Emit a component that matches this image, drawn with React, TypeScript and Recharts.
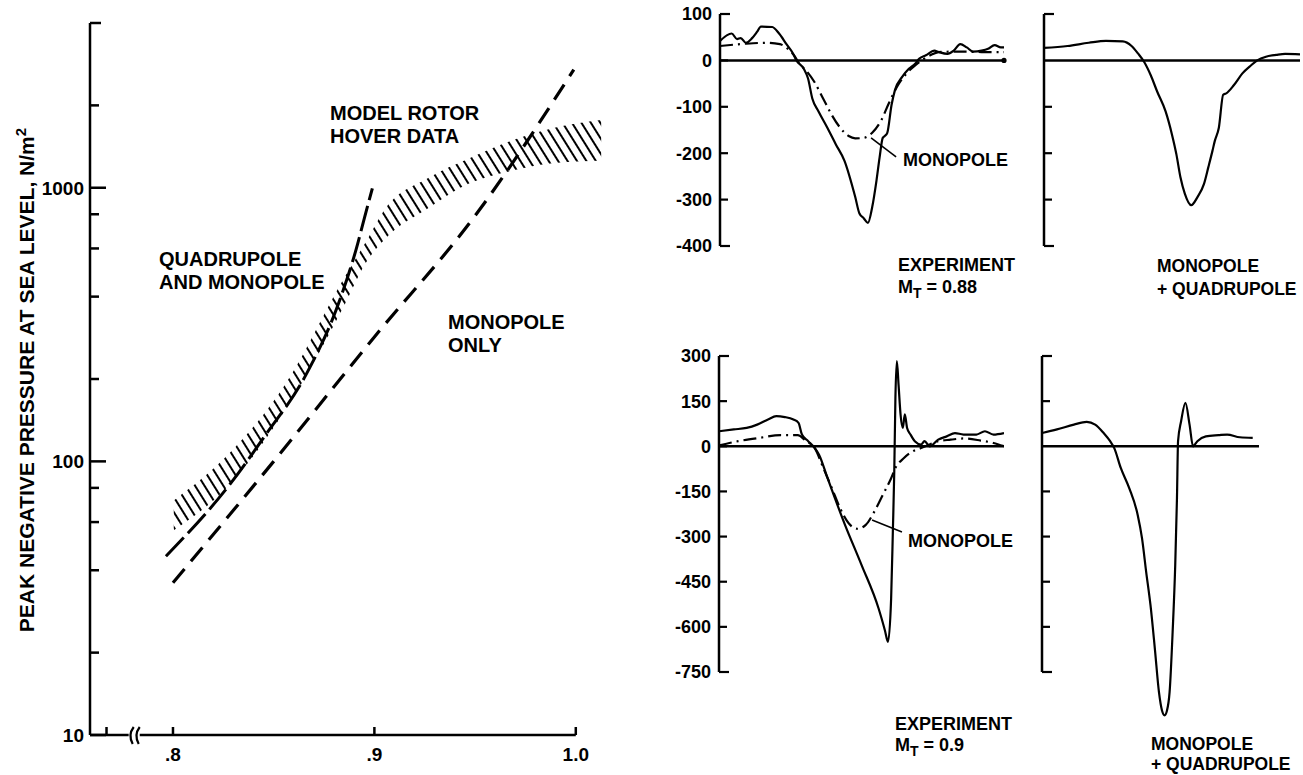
import React from 'react';
import {
  ComposedChart,
  LineChart,
  Line,
  Area,
  XAxis,
  YAxis,
  ReferenceLine,
  ReferenceDot,
} from 'recharts';

const FONT = '"Liberation Sans", Arial, Helvetica, sans-serif';
const INK = '#000';

// ---------------- Left chart: peak negative pressure vs tip Mach number ----------------
const monopoleOnlyMach = [0.8, 0.85, 0.9, 0.95, 0.999];
const monopoleOnlyPressure = [36, 100, 285, 790, 2700];

const quadMonoMach = [0.7965, 0.828, 0.846, 0.866, 0.883, 0.891, 0.895, 0.899];
const quadMonoPressure = [45, 82, 125, 207, 392, 598, 773, 995];

const hoverMach = [0.8004, 0.828, 0.8557, 0.8854, 0.8953, 0.9055, 0.9265, 0.9475, 0.9685, 0.9895, 1.0126];
const hoverLow = [56, 82, 154, 376, 525, 652, 840, 1040, 1155, 1232, 1256];
const hoverHigh = [72, 107, 191, 474, 625, 840, 1084, 1285, 1490, 1655, 1767];

const xTickValues = [0.767, 0.8, 0.9, 1.0];
const xTickLabels = ['', '.8', '.9', '1.0'];
const yTickValues = [10, 20, 40, 60, 80, 100, 200, 400, 600, 800, 1000, 2000, 4000];
const yTickLabels = ['10', '', '', '', '', '100', '', '', '', '', '1000', '', ''];

// ---------------- Right panels: pressure time histories ----------------
// Panel A: experiment, M_T = 0.88
const tA = [0, 4.1, 6.0, 7.3, 9.1, 11.3, 13.1, 14.4, 18.4, 20.8, 23.4, 25.7, 26.9, 29.5, 31.0, 32.5, 34.7, 37.8, 40.8, 43.8, 47.6, 49.1, 50.6, 52.1, 53.6, 55.1, 56.2, 57.3, 58.0, 58.9, 60.4, 61.6, 64.2, 66.5, 68.7, 70.2, 72.5, 75.5, 77.0, 80.1, 82.3, 84.6, 86.9, 89.1, 92.1, 94.4, 96.7, 98.9, 100];
const vA = [42, 58, 46, 48, 38, 48, 62, 73, 72, 58, 35, 15, 0, -18, -39, -82, -110, -145, -181, -216, -294, -330, -340, -350, -316, -259, -209, -167, -163, -156, -96, -64, -35, -18, -7, 4, 11, 21, 18, 14, 21, 35, 28, 19, 21, 25, 33, 28, 28];
const tAm = [0, 9.1, 16.6, 21.1, 24.2, 26.4, 27.9, 30.2, 33.2, 36.3, 39.3, 42.3, 45.3, 47.6, 50.6, 53.6, 56.6, 59.7, 62.7, 65.7, 68.7, 71.0, 74.0, 77.0, 84.6, 92.1, 100];
const vAm = [31, 36, 38, 35, 23, 8, -7, -21, -46, -82, -117, -145, -163, -168, -167, -156, -131, -89, -53, -28, -11, 0, 11, 18, 19, 18, 18];

// Panel B: monopole + quadrupole, M_T = 0.88
const tB = [0, 9.2, 17.5, 24.2, 30.8, 34.2, 36.7, 39.2, 41.7, 44.2, 47.5, 50, 51.7, 53.3, 55, 57.5, 60, 62.5, 64.2, 65.8, 66.7, 68.3, 70, 71.2, 74.2, 77.5, 80.8, 83.3, 86.7, 90.8, 94.2, 100];
const vB = [27, 31, 38, 42, 41, 31, 15, -4, -32, -67, -110, -160, -202, -252, -287, -312, -294, -266, -230, -195, -174, -145, -74, -71, -53, -28, -11, 0, 8, 12, 14, 13];

// Panel C: experiment, M_T = 0.9
const tC = [0, 5.2, 9.7, 13.4, 17.2, 20.1, 23.1, 26.1, 27.9, 29.1, 31.3, 33.6, 35.1, 38.1, 44.0, 50.0, 56.0, 58.2, 59.3, 60.4, 61.0, 61.5, 61.9, 62.4, 63.0, 63.7, 64.5, 65.2, 66.0, 67.2, 68.7, 70.9, 72.1, 73.9, 76.9, 79.9, 82.8, 85.8, 90.3, 93.3, 96.3, 100];
const vC = [50, 56, 61, 72, 89, 100, 97, 89, 78, 39, 17, -6, -28, -106, -256, -394, -539, -611, -650, -505, -283, -83, 161, 283, 205, 106, 61, 106, 61, 39, 17, 6, 17, 0, 22, 33, 44, 39, 39, 50, 39, 44];
const tCm = [0, 6.7, 14.2, 21.6, 27.6, 30.6, 33.6, 36.6, 39.6, 42.5, 45.5, 48.5, 51.5, 54.5, 57.5, 60.4, 61.9, 64.9, 67.9, 70.9, 73.9, 76.9, 81.3, 85.8, 91.8, 96.3, 100];
const vCm = [3, 17, 28, 37, 37, 17, -6, -72, -139, -206, -256, -274, -261, -217, -161, -106, -72, -39, -17, -6, 6, 17, 22, 26, 19, 11, 0];

// Panel D: monopole + quadrupole, M_T = 0.9
const tD = [0, 6.9, 14.7, 20.6, 24.5, 28.4, 31.4, 33.3, 36.3, 40.2, 44.1, 46.1, 48.0, 50.0, 52.0, 53.9, 55.3, 56.5, 57.6, 58.8, 60.2, 61.4, 62.2, 62.7, 64.1, 66.1, 68.0, 69.6, 71.6, 75.5, 81.4, 85.3, 91.2, 97.1];
const vD = [44, 56, 72, 81, 72, 44, 17, -6, -72, -139, -228, -306, -417, -528, -672, -817, -878, -894, -878, -817, -617, -394, -172, 17, 83, 144, 72, 0, 17, 33, 37, 39, 30, 28];

const ticksA = [100, 0, -100, -200, -300, -400];
const ticksB = [100, -100, -200, -300, -400];
const ticksC = [300, 150, 0, -150, -300, -450, -600, -750];
const ticksD = [300, 150, -150, -300, -450, -600, -750];

// ---------------- helpers ----------------
const pts = (xs: number[], ys: number[]) => xs.map((x, i) => ({ x, y: ys[i] }));
const series = (ts: number[], vs: number[]) => ts.map((t, i) => ({ t, v: vs[i] }));
const hoverBand = hoverMach.map((x, i) => ({ x, range: [hoverLow[i], hoverHigh[i]] }));

const LogYTick = (props: any) => {
  const { x, y, payload } = props;
  const v = payload.value;
  const idx = yTickValues.indexOf(v);
  const label = idx >= 0 ? yTickLabels[idx] : '';
  const len = label ? 16 : v === 4000 ? 11 : 9;
  return (
    <g>
      <line x1={x} y1={y} x2={x + len} y2={y} stroke={INK} strokeWidth={2.5} />
      {label && (
        <text x={x - 6} y={y} dy="0.36em" textAnchor="end" fontFamily={FONT} fontWeight={700} fontSize={19} fill={INK}>
          {label}
        </text>
      )}
    </g>
  );
};

const MachTick = (props: any) => {
  const { x, y, payload } = props;
  const idx = xTickValues.indexOf(payload.value);
  const label = idx >= 0 ? xTickLabels[idx] : '';
  return (
    <g>
      <line x1={x} y1={y} x2={x} y2={y - 8} stroke={INK} strokeWidth={2.5} />
      {label && (
        <text x={x} y={y + 19} dy="0.36em" textAnchor="middle" fontFamily={FONT} fontWeight={700} fontSize={19} fill={INK}>
          {label}
        </text>
      )}
    </g>
  );
};

const BreakMark = (props: any) => {
  const { cx, cy } = props;
  return (
    <g fill="none" stroke={INK} strokeWidth={2.2}>
      <path d={`M ${cx - 1} ${cy - 8} Q ${cx - 7} ${cy} ${cx - 2} ${cy + 9}`} />
      <path d={`M ${cx + 5} ${cy - 8} Q ${cx - 1} ${cy} ${cx + 4} ${cy + 9}`} />
    </g>
  );
};

function makePanelTick(showLabels: boolean, ends: number[]) {
  return (props: any) => {
    const { x, y, payload } = props;
    const v = payload.value;
    const len = ends.includes(v) ? 10 : 8;
    return (
      <g>
        <line x1={x} y1={y} x2={x + len} y2={y} stroke={INK} strokeWidth={2.2} />
        {showLabels && (
          <text x={x - 8} y={y} dy="0.36em" textAnchor="end" fontFamily={FONT} fontWeight={700} fontSize={18} fill={INK}>
            {String(v)}
          </text>
        )}
      </g>
    );
  };
}

type PanelCfg = {
  left: number;
  top: number;
  width: number;
  height: number;
  domain: [number, number];
  axisRange: [number, number];
  ticks: number[];
  labels: boolean;
  lines: { data: { t: number; v: number }[]; dash?: string }[];
  leader?: { x: number; y: number }[];
  endDot?: boolean;
};

const DASHDOT = '13 5 2 5';

const panels: PanelCfg[] = [
  {
    left: 720, top: 14, width: 284, height: 232,
    domain: [-400, 100], axisRange: [-400, 100], ticks: ticksA, labels: true,
    lines: [{ data: series(tAm, vAm), dash: DASHDOT }, { data: series(tA, vA) }],
    leader: [{ x: 53.2, y: -167 }, { x: 62, y: -208 }], endDot: true,
  },
  {
    left: 1044, top: 14, width: 256, height: 232,
    domain: [-400, 100], axisRange: [-400, 100], ticks: ticksB, labels: false,
    lines: [{ data: series(tB, vB) }],
  },
  {
    left: 719, top: 356, width: 285, height: 316,
    domain: [-750, 300], axisRange: [-750, 300], ticks: ticksC, labels: true,
    lines: [{ data: series(tCm, vCm), dash: DASHDOT }, { data: series(tC, vC) }],
    leader: [{ x: 53.7, y: -245 }, { x: 64.2, y: -285 }],
  },
  {
    left: 1042, top: 356, width: 217, height: 376.2,
    domain: [-950, 300], axisRange: [-750, 300], ticks: ticksD, labels: false,
    lines: [{ data: series(tD, vD) }],
  },
];

function Panel({ cfg }: { cfg: PanelCfg }) {
  const m = 14;
  const yw = 64;
  const Tick = makePanelTick(cfg.labels, cfg.axisRange);
  return (
    <div style={{ position: 'absolute', left: cfg.left - yw - m, top: cfg.top - m }}>
      <LineChart width={cfg.width + yw + 2 * m} height={cfg.height + 2 * m} margin={{ top: m, right: m, bottom: m, left: m }}>
        <XAxis type="number" dataKey="t" domain={[0, 100]} hide allowDataOverflow />
        <YAxis
          type="number"
          domain={cfg.domain}
          ticks={cfg.ticks}
          interval={0}
          width={yw}
          axisLine={false}
          tickLine={false}
          tickSize={0}
          tickMargin={0}
          tick={Tick}
          allowDataOverflow
        />
        <ReferenceLine
          segment={[{ x: 0, y: cfg.axisRange[0] }, { x: 0, y: cfg.axisRange[1] }]}
          stroke={INK}
          strokeWidth={2.5}
          ifOverflow="visible"
        />
        <ReferenceLine
          segment={[{ x: 0, y: 0 }, { x: 100, y: 0 }]}
          stroke={INK}
          strokeWidth={2.5}
          ifOverflow="visible"
        />
        {cfg.endDot && <ReferenceDot x={100} y={0} r={2.6} fill={INK} stroke="none" ifOverflow="visible" />}
        {cfg.leader && <ReferenceLine segment={cfg.leader} stroke={INK} strokeWidth={1.6} ifOverflow="visible" />}
        {cfg.lines.map((l, i) => (
          <Line
            key={i}
            data={l.data}
            dataKey="v"
            type="monotone"
            stroke={INK}
            strokeWidth={2.2}
            strokeDasharray={l.dash}
            dot={false}
            activeDot={false}
            isAnimationActive={false}
          />
        ))}
      </LineChart>
    </div>
  );
}

const textStyle: React.CSSProperties = {
  position: 'absolute',
  fontFamily: FONT,
  fontWeight: 700,
  color: INK,
  whiteSpace: 'nowrap',
};

function TextBlock({ left, centerY, lines, size = 18, lh = 22 }: { left: number; centerY: number; lines: React.ReactNode[]; size?: number; lh?: number }) {
  return (
    <div style={{ ...textStyle, left, top: centerY - lh / 2, fontSize: size, lineHeight: `${lh}px` }}>
      {lines.map((l, i) => (
        <div key={i}>{l}</div>
      ))}
    </div>
  );
}

const Mach = ({ value }: { value: string }) => (
  <span>
    M<span style={{ fontSize: 14, position: 'relative', top: 5 }}>T</span> = {value}
  </span>
);

export default function App() {
  return (
    <div style={{ position: 'absolute', left: 0, top: 0, width: 1303, height: 775, overflow: 'hidden', background: '#fff' }}>
      {/* Left chart */}
      <div style={{ position: 'absolute', left: 0, top: 0 }}>
        <ComposedChart width={620} height={775} margin={{ top: 23, right: 14, bottom: 0, left: 30 }}>
          <defs>
            <pattern id="hatch" width="8" height="8" patternUnits="userSpaceOnUse" patternTransform="rotate(-32)">
              <line x1="4" y1="0" x2="4" y2="8" stroke={INK} strokeWidth="2" />
            </pattern>
          </defs>
          <XAxis
            type="number"
            dataKey="x"
            domain={[0.7588, 1.015]}
            ticks={xTickValues}
            interval={0}
            height={40}
            axisLine={false}
            tickLine={false}
            tickSize={0}
            tickMargin={0}
            tick={MachTick}
            allowDataOverflow
          />
          <YAxis
            type="number"
            scale="log"
            domain={[10, 4000]}
            ticks={yTickValues}
            interval={0}
            width={60}
            axisLine={{ stroke: INK, strokeWidth: 2.5 }}
            tickLine={false}
            tickSize={0}
            tickMargin={0}
            tick={LogYTick}
            allowDataOverflow
          />
          <ReferenceLine segment={[{ x: 0.7588, y: 10 }, { x: 0.778, y: 10 }]} stroke={INK} strokeWidth={2.5} ifOverflow="visible" />
          <ReferenceLine segment={[{ x: 0.7835, y: 10 }, { x: 1.0, y: 10 }]} stroke={INK} strokeWidth={2.5} ifOverflow="visible" />
          <ReferenceDot x={0.781} y={10} r={1} shape={BreakMark} ifOverflow="visible" />
          <Area
            data={hoverBand}
            dataKey="range"
            type="monotone"
            stroke="none"
            fill="url(#hatch)"
            fillOpacity={1}
            dot={false}
            activeDot={false}
            isAnimationActive={false}
          />
          <Line
            data={pts(quadMonoMach, quadMonoPressure)}
            dataKey="y"
            type="monotone"
            stroke={INK}
            strokeWidth={3}
            strokeDasharray="26 6"
            dot={false}
            activeDot={false}
            isAnimationActive={false}
          />
          <Line
            data={pts(monopoleOnlyMach, monopoleOnlyPressure)}
            dataKey="y"
            type="monotone"
            stroke={INK}
            strokeWidth={3.2}
            strokeDasharray="18 10"
            dot={false}
            activeDot={false}
            isAnimationActive={false}
          />
        </ComposedChart>
      </div>

      {/* Left axis title */}
      <div
        style={{
          ...textStyle,
          left: 27 - 300,
          top: 380 - 12,
          width: 600,
          height: 24,
          lineHeight: '24px',
          fontSize: 21,
          textAlign: 'center',
          transform: 'rotate(-90deg)',
          transformOrigin: '50% 50%',
        }}
      >
        PEAK NEGATIVE PRESSURE AT SEA LEVEL, N/m<sup style={{ fontSize: 15, lineHeight: 0 }}>2</sup>
      </div>

      <TextBlock left={330} centerY={113} lines={['MODEL ROTOR', 'HOVER DATA']} size={20} lh={23} />
      <TextBlock left={159} centerY={259} lines={['QUADRUPOLE', 'AND MONOPOLE']} size={20} lh={23} />
      <TextBlock left={448} centerY={322} lines={['MONOPOLE', 'ONLY']} size={20} lh={23} />

      {/* Right panels */}
      {panels.map((p, i) => (
        <Panel key={i} cfg={p} />
      ))}

      <TextBlock left={903} centerY={160} lines={['MONOPOLE']} />
      <TextBlock left={898} centerY={265} lines={['EXPERIMENT', <Mach value="0.88" />]} />
      <TextBlock left={1157} centerY={266} lines={['MONOPOLE', '+ QUADRUPOLE']} size={17.5} lh={23} />

      <TextBlock left={908} centerY={541} lines={['MONOPOLE']} />
      <TextBlock left={895} centerY={724} lines={['EXPERIMENT', <Mach value="0.9" />]} lh={21} />
      <TextBlock left={1151} centerY={744} lines={['MONOPOLE', '+ QUADRUPOLE']} size={17.5} lh={20} />
    </div>
  );
}
